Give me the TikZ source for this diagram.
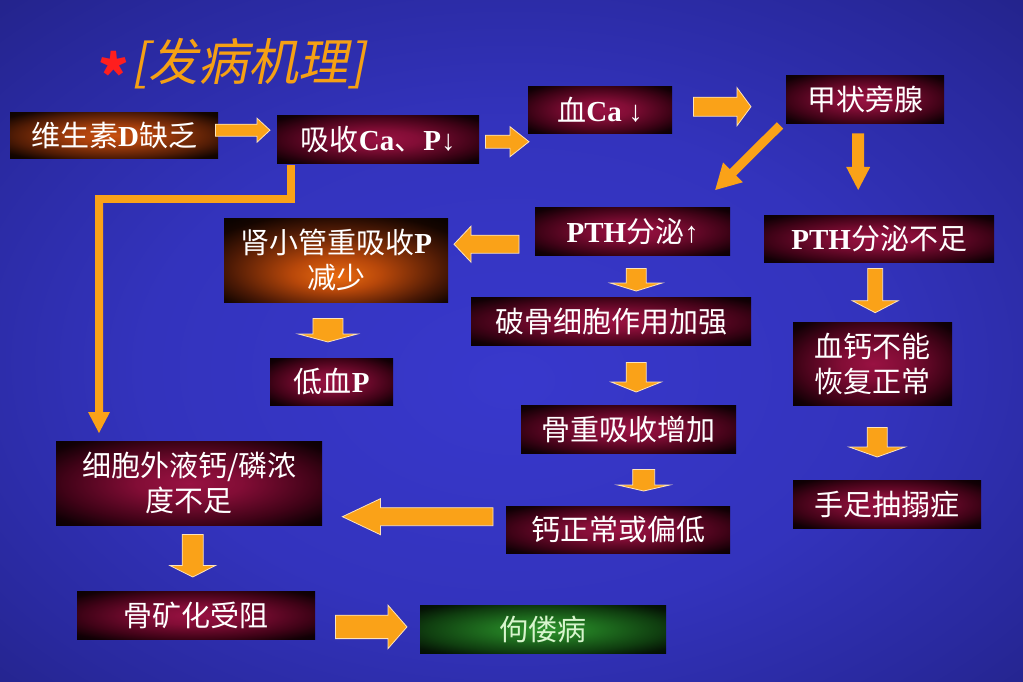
\documentclass[tikz,border=0pt]{standalone}
\usepackage{fontspec}
\setmainfont{Liberation Serif}
\newfontfamily\cjk{Noto Sans CJK SC}
\newfontfamily\titlecjk[FakeSlant=0.2]{Noto Sans CJK SC}
\usetikzlibrary{calc}
\definecolor{arrowor}{RGB}{250,162,24}
\definecolor{titleor}{RGB}{245,160,20}
\definecolor{starred}{RGB}{255,30,30}
\definecolor{paleg}{RGB}{215,245,205}
\pgfdeclareradialshading{bgshade}{\pgfpoint{0bp}{-3bp}}{rgb(0bp)=(0.22,0.22,0.80); rgb(18bp)=(0.20,0.20,0.74); rgb(30bp)=(0.16,0.16,0.62); rgb(42bp)=(0.12,0.12,0.48); rgb(50bp)=(0.09,0.09,0.38)}
\pgfdeclareradialshading{redbox}{\pgfpoint{0bp}{0bp}}{rgb(0bp)=(0.60,0.07,0.26); rgb(10bp)=(0.51,0.05,0.21); rgb(24bp)=(0.25,0.01,0.09); rgb(32bp)=(0.07,0,0.02); rgb(36bp)=(0.03,0,0.01); rgb(50bp)=(0.02,0,0.01)}
\pgfdeclareradialshading{orangebox}{\pgfpoint{0bp}{0bp}}{rgb(0bp)=(0.78,0.31,0.06); rgb(10bp)=(0.66,0.25,0.05); rgb(24bp)=(0.32,0.11,0.02); rgb(32bp)=(0.08,0.02,0); rgb(36bp)=(0.04,0.01,0); rgb(50bp)=(0.03,0.01,0)}
\pgfdeclareradialshading{orangelow}{\pgfpoint{0bp}{-10bp}}{rgb(0bp)=(0.92,0.42,0.06); rgb(10bp)=(0.72,0.28,0.04); rgb(24bp)=(0.30,0.10,0.02); rgb(32bp)=(0.08,0.02,0); rgb(36bp)=(0.04,0.01,0); rgb(50bp)=(0.03,0.01,0)}
\pgfdeclareradialshading{greenbox}{\pgfpoint{0bp}{0bp}}{rgb(0bp)=(0.18,0.58,0.18); rgb(10bp)=(0.13,0.46,0.13); rgb(24bp)=(0.06,0.24,0.06); rgb(32bp)=(0.02,0.08,0.02); rgb(36bp)=(0.01,0.05,0.01); rgb(50bp)=(0.01,0.04,0.01)}
\newcommand\lb[1]{{\rmfamily\bfseries #1}}
\newcommand\ar[1]{{\rmfamily\mdseries #1}}
% block arrow: [style]{start}{end}{shaft half}{head half}{head length}
\newcommand\barrow[6][]{%
  \coordinate (ba-s) at #2;
  \coordinate (ba-e) at #3;
  \coordinate (ba-h) at ($(ba-e)!#6!(ba-s)$);
  \filldraw[blockarrow,#1] ($(ba-s)!#4!90:(ba-e)$) -- ($(ba-h)!#4!-90:(ba-s)$) -- ($(ba-h)!#5!-90:(ba-s)$) -- (ba-e) -- ($(ba-h)!#5!90:(ba-s)$) -- ($(ba-h)!#4!90:(ba-s)$) -- ($(ba-s)!#4!-90:(ba-e)$) -- cycle;
}
\tikzset{
  box/.style={shade, shading=redbox, draw=none, anchor=north west, inner sep=0pt, align=center, text=white, font=\cjk\fontsize{29}{35}\selectfont},
  blockarrow/.style={fill=arrowor, draw=white!70!arrowor, line width=0.8pt, line join=miter},
}
\begin{document}
\begin{tikzpicture}[x=1pt,y=-1pt]
\useasboundingbox (0,0) rectangle (1023,682);
\shade[shading=bgshade] (0,0) rectangle (1023,682);

% title
\node[anchor=base, inner sep=0pt, text=starred, font=\cjk\bfseries\fontsize{58}{58}\selectfont] (star) at (114,99) {*};
\node[anchor=base west, inner sep=0pt, text=titleor, font=\titlecjk\fontsize{50}{54}\selectfont] (title) at (131,81) {[发病机理]};

% boxes
\node[box, shading=orangebox, minimum width=208pt, minimum height=46pt] (v) at (10,112) {维生素\lb{D}缺乏};
\node[box, minimum width=202pt, minimum height=48pt] (xs) at (277,115) {吸收\lb{Ca}、\lb{P}\ar{↓}};
\node[box, minimum width=144pt, minimum height=47pt] (xca) at (528,86) {血\lb{Ca} \ar{↓}};
\node[box, minimum width=158pt, minimum height=48pt] (jz) at (786,75) {甲状旁腺};
\node[box, minimum width=195pt, minimum height=48pt] (pu) at (535,207) {\lb{PTH}分泌\ar{↑}};
\node[box, minimum width=230pt, minimum height=47pt] (pb) at (764,215) {\lb{PTH}分泌不足};
\node[box, shading=orangelow, minimum width=224pt, minimum height=84pt] (sx) at (224,218) {肾小管重吸收\lb{P}\\减少};
\node[box, minimum width=280pt, minimum height=48pt] (pg) at (471,297) {破骨细胞作用加强};
\node[box, minimum width=123pt, minimum height=47pt] (dp) at (270,358) {低血\lb{P}};
\node[box, minimum width=159pt, minimum height=83pt] (xg) at (793,322) {血钙不能\\恢复正常};
\node[box, minimum width=215pt, minimum height=48pt] (gc) at (521,405) {骨重吸收增加};
\node[box, minimum width=188pt, minimum height=48pt] (sz) at (793,480) {手足抽搦症};
\node[box, minimum width=224pt, minimum height=47pt] (gz) at (506,506) {钙正常或偏低};
\node[box, minimum width=266pt, minimum height=84pt] (xc) at (56,441) {细胞外液钙/磷浓\\度不足};
\node[box, minimum width=238pt, minimum height=48pt] (gk) at (77,591) {骨矿化受阻};
\node[box, shading=greenbox, text=paleg, minimum width=246pt, minimum height=48pt] (gl) at (420,605) {佝偻病};

% block arrows
\barrow{($(v.east)+(-3,-5)$)}{($(xs.west)+(-7,-9)$)}{6pt}{12pt}{13pt}
\barrow{($(xs.east)+(6,2.5)$)}{($(xca.west)+(1,32)$)}{6.5pt}{15pt}{19pt}
\barrow{($(xca.east)+(21,-3)$)}{($(jz.west)+(-35,7.5)$)}{9.5pt}{19pt}{14pt}
\barrow[draw=none]{($(jz.south west)+(-6,2)$)}{($(pu.north)+(82.5,-17)$)}{4.5pt}{14pt}{25pt}
\barrow[draw=none]{($(jz.south)+(-7,10)$)}{($(pb.north)+(-21,-25)$)}{6pt}{12pt}{23pt}
\barrow{($(pu.west)+(-16,13)$)}{($(sx.east)+(5.6,-16)$)}{9pt}{18pt}{17pt}
\barrow{($(pu.south)+(3.5,13)$)}{($(pg.north)+(25,-6)$)}{10pt}{26pt}{8pt}
\barrow{($(pg.south)+(25,17)$)}{($(gc.north)+(7.5,-13)$)}{10pt}{25pt}{10pt}
\barrow{($(gc.south)+(15,16)$)}{($(gz.north)+(25.5,-15)$)}{11pt}{26pt}{6pt}
\barrow{($(gz.west)+(-13,-13)$)}{($(xc.east)+(20,33.5)$)}{9pt}{18pt}{38pt}
\barrow{($(sx.south)+(-8.3,16)$)}{($(dp.north)+(-3.8,-16)$)}{15pt}{29.5pt}{8pt}
\barrow{($(pb.south)+(-4,6)$)}{($(xg.north)+(2.5,-9.3)$)}{7.5pt}{23pt}{12pt}
\barrow{($(xg.south)+(4.5,22)$)}{($(sz.north)+(-10,-23)$)}{10pt}{28pt}{10pt}
\barrow{($(xc.south)+(3.5,9)$)}{($(gk.north)+(-3.5,-14)$)}{10.5pt}{23pt}{11.6pt}
\barrow{($(gk.east)+(20,11.7)$)}{($(gl.west)+(-13,-2.3)$)}{11.7pt}{21.7pt}{19pt}

% elbow connector
\coordinate (s16) at ($(xs.south west)+(14,6)$);
\coordinate (bend) at ($(xc.north west)+(43,-242)$);
\draw[arrowor, line width=8pt, line join=miter, line cap=rect] (s16) |- (bend);
\barrow[draw=none]{(bend)}{($(xc.north west)+(43,-8)$)}{4pt}{11pt}{21pt}
\end{tikzpicture}
\end{document}
